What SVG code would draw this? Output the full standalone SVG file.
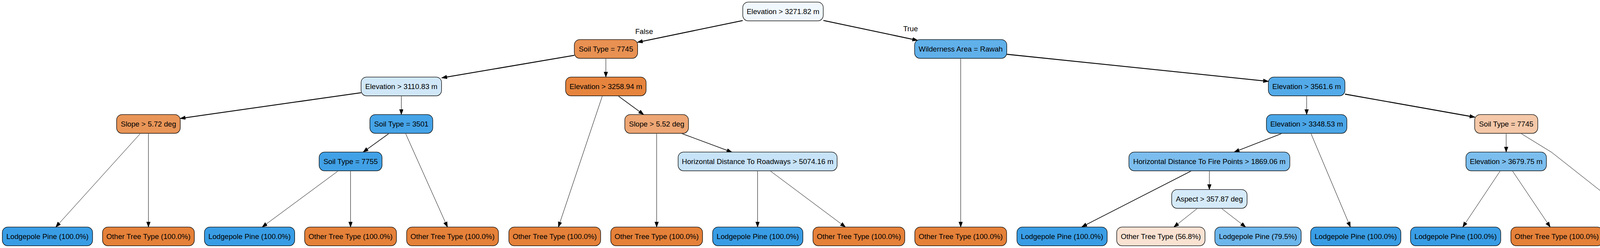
<svg xmlns="http://www.w3.org/2000/svg" width="4370" height="635" viewBox="0 0 4370 635">
<defs>
<marker id="ah" markerUnits="userSpaceOnUse" markerWidth="16" markerHeight="12" refX="13.3" refY="4.8" orient="auto"><path d="M0,0 L13.3,4.8 L0,9.6 z" fill="#000" stroke="#000" stroke-width="1"/></marker>
</defs>
<style>
.n rect.s{fill:#c8c8c8}
.n rect.b{stroke:#000;stroke-width:1.3}
text{font-family:"Liberation Sans",Arial,Helvetica,sans-serif;font-size:18.67px;text-anchor:middle;fill:#000}
.e path{fill:none;stroke:#000;marker-end:url(#ah)}
.t1{stroke-width:1}
.t2{stroke-width:1.6}
.t3{stroke-width:2.3}
.o{fill:#e58139}.b1{fill:#399de5}
</style>
<rect width="4370" height="635" fill="#fff"/>
<g id="edges" class="e">
<path class="t3" d="M1901.3,52.7 L1632,108.3"/>
<path class="t3" d="M2107.9,52.3 L2349,103.3"/>
<path class="t3" d="M1470.4,141.7 L1131,199.3"/>
<path class="t1" d="M1551,150 L1551,197.3"/>
<path class="t3" d="M924.5,237.3 L461.5,303.3"/>
<path class="t1" d="M1027.4,245.7 L1027.4,293.3"/>
<path class="t1" d="M358.9,342.3 L142.9,581.3"/>
<path class="t1" d="M380,342 L380,581.3"/>
<path class="t2" d="M994.9,342.3 L929.8,389.3"/>
<path class="t1" d="M1038.5,342.3 L1145.5,581.3"/>
<path class="t1" d="M864.8,438.3 L671.2,581.3"/>
<path class="t1" d="M897.4,438 L897.4,581.3"/>
<path class="t1" d="M1542,245.7 L1429.5,581.3"/>
<path class="t2" d="M1582.6,245.7 L1647.7,293.3"/>
<path class="t1" d="M1681,342 L1681,581.3"/>
<path class="t2" d="M1744.9,341.7 L1873.5,389.5"/>
<path class="t1" d="M1939.4,438 L1939.4,581.3"/>
<path class="t1" d="M1971.4,437.3 L2164.3,581.3"/>
<path class="t1" d="M2459.4,150 L2459.4,581.3"/>
<path class="t3" d="M2577.5,139 L3247.2,208.3"/>
<path class="t1" d="M3345,246 L3345,293.3"/>
<path class="t3" d="M3443.1,241 L3775.6,300"/>
<path class="t2" d="M3281,342 L3159.7,389.3"/>
<path class="t1" d="M3356,341.7 L3457,581.3"/>
<path class="t2" d="M3049.5,437.7 L2769.4,581"/>
<path class="t1" d="M3096,437.7 L3096,485.3"/>
<path class="t1" d="M3064.8,534 L3005.1,581.3"/>
<path class="t1" d="M3127.5,534 L3188.8,581.3"/>
<path class="t1" d="M3855.8,342 L3855.8,389.3"/>
<path class="t1" d="M3893.7,341.7 L3972.2,390 L4214.8,581.3"/>
<path class="t1" d="M3840.5,437.7 L3744.7,581.3"/>
<path class="t1" d="M3871.9,437.7 L3968.5,581.3"/>
</g>
<g id="edge-labels">
<text x="1649" y="86.5">False</text>
<text x="2331" y="80">True</text>
</g>
<g id="n0" class="n"><rect class="s" x="1901.5" y="6.5" width="206" height="48" rx="14"/><rect class="b" x="1901.5" y="5.3" width="206" height="48" rx="14" fill="#f1f8fd"/><text x="2004.5" y="35.8">Elevation &gt; 3271.82 m</text></g>
<g id="n1" class="n"><rect class="s" x="1470.3" y="102.5" width="162" height="48" rx="14"/><rect class="b" x="1470.3" y="101.3" width="162" height="48" rx="14" fill="#e89152"/><text x="1551.3" y="131.8">Soil Type = 7745</text></g>
<g id="n2" class="n"><rect class="s" x="2341.4" y="102.5" width="236" height="48" rx="14"/><rect class="b" x="2341.4" y="101.3" width="236" height="48" rx="14" fill="#60b0ea"/><text x="2459.4" y="131.8">Wilderness Area = Rawah</text></g>
<g id="n3" class="n"><rect class="s" x="924.4" y="198.5" width="206" height="48" rx="14"/><rect class="b" x="924.4" y="197.3" width="206" height="48" rx="14" fill="#d0e7f8"/><text x="1027.4" y="227.8">Elevation &gt; 3110.83 m</text></g>
<g id="n4" class="n"><rect class="s" x="1448" y="198.5" width="206" height="48" rx="14"/><rect class="b" x="1448" y="197.3" width="206" height="48" rx="14" fill="#e6843d"/><text x="1551" y="227.8">Elevation &gt; 3258.94 m</text></g>
<g id="n5" class="n"><rect class="s" x="3247" y="198.5" width="196" height="48" rx="14"/><rect class="b" x="3247" y="197.3" width="196" height="48" rx="14" fill="#53aae8"/><text x="3345" y="227.8">Elevation &gt; 3561.6 m</text></g>
<g id="n6" class="n"><rect class="s" x="298.5" y="294.5" width="163" height="48" rx="14"/><rect class="b" x="298.5" y="293.3" width="163" height="48" rx="14" fill="#e99558"/><text x="380" y="323.8">Slope &gt; 5.72 deg</text></g>
<g id="n7" class="n"><rect class="s" x="946.9" y="294.5" width="161" height="48" rx="14"/><rect class="b" x="946.9" y="293.3" width="161" height="48" rx="14" fill="#45a3e7"/><text x="1027.4" y="323.8">Soil Type = 3501</text></g>
<g id="n8" class="n"><rect class="s" x="1599.5" y="294.5" width="163" height="48" rx="14"/><rect class="b" x="1599.5" y="293.3" width="163" height="48" rx="14" fill="#eda674"/><text x="1681" y="323.8">Slope &gt; 5.52 deg</text></g>
<g id="n9" class="n"><rect class="s" x="3242" y="294.5" width="206" height="48" rx="14"/><rect class="b" x="3242" y="293.3" width="206" height="48" rx="14" fill="#4ba6e7"/><text x="3345" y="323.8">Elevation &gt; 3348.53 m</text></g>
<g id="n10" class="n"><rect class="s" x="3775.2" y="294.5" width="161.5" height="48" rx="14"/><rect class="b" x="3775.2" y="293.3" width="161.5" height="48" rx="14" fill="#f4c8a8"/><text x="3855.9" y="323.8">Soil Type = 7745</text></g>
<g id="n11" class="n"><rect class="s" x="817" y="390.5" width="161" height="48" rx="14"/><rect class="b" x="817" y="389.3" width="161" height="48" rx="14" fill="#41a1e6"/><text x="897.5" y="419.8">Soil Type = 7755</text></g>
<g id="n12" class="n"><rect class="s" x="1736" y="390.5" width="407" height="48" rx="14"/><rect class="b" x="1736" y="389.3" width="407" height="48" rx="14" fill="#c7e3f8"/><text x="1939.5" y="419.8">Horizontal Distance To Roadways &gt; 5074.16 m</text></g>
<g id="n13" class="n"><rect class="s" x="2890" y="390.5" width="412" height="48" rx="14"/><rect class="b" x="2890" y="389.3" width="412" height="48" rx="14" fill="#7bbdee"/><text x="3096" y="419.8">Horizontal Distance To Fire Points &gt; 1869.06 m</text></g>
<g id="n14" class="n"><rect class="s" x="3752.8" y="390.5" width="206" height="48" rx="14"/><rect class="b" x="3752.8" y="389.3" width="206" height="48" rx="14" fill="#7bbeee"/><text x="3855.8" y="419.8">Elevation &gt; 3679.75 m</text></g>
<g id="n15" class="n"><rect class="s" x="2999.5" y="486.5" width="193" height="48" rx="14"/><rect class="b" x="2999.5" y="485.3" width="193" height="48" rx="14" fill="#d5eaf9"/><text x="3096" y="515.8">Aspect &gt; 357.87 deg</text></g>
<g id="leaf1" class="n"><rect class="s" x="6" y="582.5" width="231" height="47.5" rx="14"/><rect class="b b1" x="6" y="581.3" width="231" height="48" rx="14"/><text x="121.5" y="611.8">Lodgepole Pine (100.0%)</text></g>
<g id="leaf2" class="n"><rect class="s" x="262.5" y="582.5" width="235" height="47.5" rx="14"/><rect class="b o" x="262.5" y="581.3" width="235" height="48" rx="14"/><text x="380" y="611.8">Other Tree Type (100.0%)</text></g>
<g id="leaf3" class="n"><rect class="s" x="523.4" y="582.5" width="231" height="47.5" rx="14"/><rect class="b b1" x="523.4" y="581.3" width="231" height="48" rx="14"/><text x="638.9" y="611.8">Lodgepole Pine (100.0%)</text></g>
<g id="leaf4" class="n"><rect class="s" x="779.9" y="582.5" width="235" height="47.5" rx="14"/><rect class="b o" x="779.9" y="581.3" width="235" height="48" rx="14"/><text x="897.4" y="611.8">Other Tree Type (100.0%)</text></g>
<g id="leaf5" class="n"><rect class="s" x="1041" y="582.5" width="235" height="47.5" rx="14"/><rect class="b o" x="1041" y="581.3" width="235" height="48" rx="14"/><text x="1158.5" y="611.8">Other Tree Type (100.0%)</text></g>
<g id="leaf6" class="n"><rect class="s" x="1302.6" y="582.5" width="235" height="47.5" rx="14"/><rect class="b o" x="1302.6" y="581.3" width="235" height="48" rx="14"/><text x="1420.1" y="611.8">Other Tree Type (100.0%)</text></g>
<g id="leaf7" class="n"><rect class="s" x="1563.5" y="582.5" width="235" height="47.5" rx="14"/><rect class="b o" x="1563.5" y="581.3" width="235" height="48" rx="14"/><text x="1681" y="611.8">Other Tree Type (100.0%)</text></g>
<g id="leaf8" class="n"><rect class="s" x="1824.4" y="582.5" width="231" height="47.5" rx="14"/><rect class="b b1" x="1824.4" y="581.3" width="231" height="48" rx="14"/><text x="1939.9" y="611.8">Lodgepole Pine (100.0%)</text></g>
<g id="leaf9" class="n"><rect class="s" x="2081.2" y="582.5" width="235" height="47.5" rx="14"/><rect class="b o" x="2081.2" y="581.3" width="235" height="48" rx="14"/><text x="2198.7" y="611.8">Other Tree Type (100.0%)</text></g>
<g id="leaf10" class="n"><rect class="s" x="2341.9" y="582.5" width="235" height="47.5" rx="14"/><rect class="b o" x="2341.9" y="581.3" width="235" height="48" rx="14"/><text x="2459.4" y="611.8">Other Tree Type (100.0%)</text></g>
<g id="leaf11" class="n"><rect class="s" x="2603.4" y="582.5" width="231" height="47.5" rx="14"/><rect class="b b1" x="2603.4" y="581.3" width="231" height="48" rx="14"/><text x="2718.9" y="611.8">Lodgepole Pine (100.0%)</text></g>
<g id="leaf12" class="n"><rect class="s" x="2858.8" y="582.5" width="226" height="47.5" rx="14"/><rect class="b" x="2858.8" y="581.3" width="226" height="48" rx="14" fill="#f9e2d2"/><text x="2971.8" y="611.8">Other Tree Type (56.8%)</text></g>
<g id="leaf13" class="n"><rect class="s" x="3110" y="582.5" width="221" height="47.5" rx="14"/><rect class="b" x="3110" y="581.3" width="221" height="48" rx="14" fill="#6cb6ec"/><text x="3220.5" y="611.8">Lodgepole Pine (79.5%)</text></g>
<g id="leaf14" class="n"><rect class="s" x="3355.2" y="582.5" width="231" height="47.5" rx="14"/><rect class="b b1" x="3355.2" y="581.3" width="231" height="48" rx="14"/><text x="3470.7" y="611.8">Lodgepole Pine (100.0%)</text></g>
<g id="leaf15" class="n"><rect class="s" x="3610.9" y="582.5" width="231" height="47.5" rx="14"/><rect class="b b1" x="3610.9" y="581.3" width="231" height="48" rx="14"/><text x="3726.4" y="611.8">Lodgepole Pine (100.0%)</text></g>
<g id="leaf16" class="n"><rect class="s" x="3867.8" y="582.5" width="235" height="47.5" rx="14"/><rect class="b o" x="3867.8" y="581.3" width="235" height="48" rx="14"/><text x="3985.3" y="611.8">Other Tree Type (100.0%)</text></g>
<g id="leaf17" class="n"><rect class="s" x="4129" y="582.5" width="235" height="47.5" rx="14"/><rect class="b o" x="4129" y="581.3" width="235" height="48" rx="14"/><text x="4246.5" y="611.8">Other Tree Type (100.0%)</text></g>
</svg>
